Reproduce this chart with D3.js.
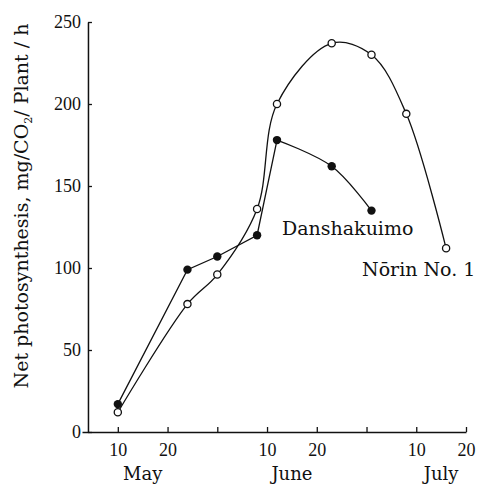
<!DOCTYPE html>
<html>
<head>
<meta charset="utf-8" />
<script src="https://d3js.org/d3.v7.min.js"></script>
<style>
  body { margin: 0; background: #fff; }
  svg { display: block; }
  .tick text { font-family: "Liberation Serif", serif; font-size: 18px; fill: #111; }
  .lbl { font-family: "DejaVu Serif", serif; fill: #111; }
</style>
</head>
<body>
<div id="chart"></div>
<script>
// Nōrin No. 1 (open circles)
var norinDates = ["May 10", "May 24", "May 30", "Jun 8", "Jun 12", "Jun 23", "Jul 1", "Jul 8", "Jul 16"];
var norinValues = [12, 78, 96, 136, 200, 237, 230, 194, 112];

// Danshakuimo (filled circles)
var danshaDates = ["May 10", "May 24", "May 30", "Jun 8", "Jun 12", "Jun 23", "Jul 1"];
var danshaValues = [17, 99, 107, 120, 178, 162, 135];

var yTicks = [0, 50, 100, 150, 200, 250];
var xTicks = [10, 20, 30, 40, 50, 60, 70, 80];
var xTickLabels = ["10", "20", "", "10", "20", "", "10", "20"];
var months = ["May", "June", "July"];
var monthCenters = [15, 45, 75];

// chart day units: each month counted as 30 days, May 1 = 1
var monthIndex = { May: 0, Jun: 1, Jul: 2 };
function toUnit(s) {
  var p = s.split(" ");
  return monthIndex[p[0]] * 30 + (+p[1]);
}

var W = 478, H = 485;
var svg = d3.select("#chart").append("svg").attr("width", W).attr("height", H);

var x = d3.scaleLinear().domain([2.8, 80]).range([82, 466]);
var y = d3.scaleLinear().domain([0, 250]).range([432, 22]);
var axisX = x(4);

// x axis
var gx = svg.append("g").attr("transform", "translate(0," + y(0) + ")")
  .call(d3.axisBottom(x).tickValues(xTicks).tickSizeInner(-5).tickSizeOuter(0)
    .tickPadding(11).tickFormat(function (d, i) { return xTickLabels[i]; }));
gx.select(".domain").attr("stroke", "#111").attr("stroke-width", 1.5);
gx.selectAll(".tick line").attr("stroke", "#111").attr("stroke-width", 1.3);

// y axis
var gy = svg.append("g").attr("transform", "translate(" + axisX + ",0)")
  .call(d3.axisLeft(y).tickValues(yTicks).tickSizeInner(-4).tickSizeOuter(0).tickPadding(7));
gy.select(".domain").attr("stroke", "#111").attr("stroke-width", 1.5);
gy.selectAll(".tick line").attr("stroke", "#111").attr("stroke-width", 1.3);

// month labels
svg.selectAll(".month").data(months).enter().append("text")
  .attr("class", "lbl month")
  .attr("x", function (d, i) { return x(monthCenters[i]); })
  .attr("y", 480)
  .attr("text-anchor", "middle")
  .style("font-size", "18px")
  .text(function (d) { return d; });

// y title
var yt = svg.append("text").attr("class", "lbl")
  .attr("transform", "translate(28," + ((y(0) + y(250)) / 2 - 21) + ") rotate(-90)")
  .attr("text-anchor", "middle")
  .style("font-size", "19px");
yt.append("tspan").text("Net photosynthesis, mg/CO");
yt.append("tspan").attr("dy", 4).style("font-size", "11px").text("2");
yt.append("tspan").attr("dy", -4).text("/ Plant / h");

function series(dates, values) {
  return dates.map(function (d, i) { return { u: toUnit(d), v: values[i] }; });
}
var norin = series(norinDates, norinValues);
var dansha = series(danshaDates, danshaValues);

var smooth = d3.line().x(function (d) { return x(d.u); }).y(function (d) { return y(d.v); })
  .curve(d3.curveCatmullRom.alpha(0.5));
var straight = d3.line().x(function (d) { return x(d.u); }).y(function (d) { return y(d.v); });

svg.append("path").datum(norin).attr("d", smooth)
  .attr("fill", "none").attr("stroke", "#111").attr("stroke-width", 1.3);
// Danshakuimo: straight rise, curved fall after the peak
svg.append("path").datum(dansha.slice(0, 5)).attr("d", straight)
  .attr("fill", "none").attr("stroke", "#111").attr("stroke-width", 1.3);
svg.append("path").datum(dansha.slice(4)).attr("d", smooth)
  .attr("fill", "none").attr("stroke", "#111").attr("stroke-width", 1.3);

svg.selectAll(".open").data(norin).enter().append("circle")
  .attr("cx", function (d) { return x(d.u); }).attr("cy", function (d) { return y(d.v); })
  .attr("r", 3.6).attr("fill", "#fff").attr("stroke", "#111").attr("stroke-width", 1.3);
svg.selectAll(".filled").data(dansha).enter().append("circle")
  .attr("cx", function (d) { return x(d.u); }).attr("cy", function (d) { return y(d.v); })
  .attr("r", 4.2).attr("fill", "#111");

svg.append("text").attr("class", "lbl").attr("x", 282).attr("y", 235)
  .style("font-size", "19px").text("Danshakuimo");
svg.append("text").attr("class", "lbl").attr("x", 362).attr("y", 276)
  .style("font-size", "19px").text("Nōrin No. 1");
</script>
</body>
</html>
